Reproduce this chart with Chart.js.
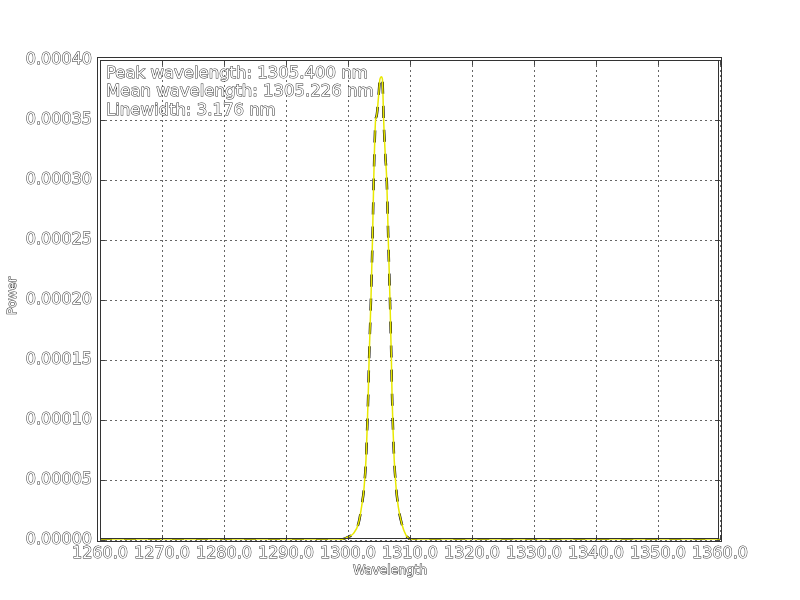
<!DOCTYPE html>
<html>
<head>
<meta charset="utf-8">
<script src="https://cdn.jsdelivr.net/npm/chart.js@4.4.1/dist/chart.umd.min.js"></script>
<style>
  html, body { margin: 0; padding: 0; background: #fff; }
  #grafica { display: block; }
</style>
</head>
<body>
<canvas id="grafica" width="800" height="600"></canvas>
<script>
var longitudes = [1260, 1298, 1299, 1300, 1300.9, 1301.7, 1302.2, 1302.6, 1302.9, 1303.1, 1303.27, 1303.4,
    1303.7, 1303.95, 1304.15, 1304.45, 1304.6, 1304.9, 1305.15, 1305.4, 1305.55, 1305.75, 1306.0,
    1306.25, 1306.5, 1306.77, 1307.0, 1307.1, 1307.25, 1307.45, 1307.75, 1308.1, 1308.65, 1309.35,
    1309.9, 1310.5, 1360]
var potencia = [0, 0, 0.0000005, 0.0000025, 0.0000055, 0.000014, 0.000028, 0.000044, 0.000067, 0.000094, 0.000122, 0.00015,
    0.0002, 0.00025, 0.0003, 0.00035, 0.000353, 0.000368, 0.000384, 0.000386, 0.000384, 0.00035, 0.000322,
    0.0003, 0.00025, 0.0002, 0.00015, 0.000122, 0.000094, 0.000067, 0.000044, 0.000028, 0.000014, 0.000004,
    0.000001, 0, 0]
var textos = ["Peak wavelength: 1305.400 nm", "Mean wavelength: 1305.226 nm", "Linewidth: 3.176 nm"]
var titulo_x = "Wavelength"
var titulo_y = "Power"

var fuente = "DejaVu Sans"
var puntos = longitudes.map(function (l, i) { return { x: l, y: potencia[i] } })

function texto_hueco(ctx, txt, x, y) {
    ctx.lineWidth = 1
    ctx.strokeStyle = "#333"
    ctx.fillStyle = "#fff"
    ctx.strokeText(txt, x, y)
    ctx.fillText(txt, x, y)
}

var marco = {
    id: "marco",
    afterDraw: function (chart) {
        var ctx = chart.ctx, a = chart.chartArea
        ctx.save()
        // marcas de escala hacia dentro
        ctx.strokeStyle = "#444"
        ctx.lineWidth = 1
        ctx.beginPath()
        chart.scales.x.ticks.forEach(function (t) {
            var px = Math.round(chart.scales.x.getPixelForValue(t.value)) + 0.5
            ctx.moveTo(px, a.bottom); ctx.lineTo(px, a.bottom - 5)
            ctx.moveTo(px, a.top); ctx.lineTo(px, a.top + 5)
        })
        chart.scales.y.ticks.forEach(function (t) {
            var py = Math.round(chart.scales.y.getPixelForValue(t.value)) + 0.5
            ctx.moveTo(a.left, py); ctx.lineTo(a.left + 5, py)
            ctx.moveTo(a.right, py); ctx.lineTo(a.right - 5, py)
        })
        ctx.stroke()
        // doble borde
        ctx.strokeStyle = "#333"
        ctx.strokeRect(a.left - 2.5, a.top - 2.5, a.right - a.left + 4, a.bottom - a.top + 4)
        ctx.strokeRect(a.left + 0.5, a.top + 0.5, a.right - a.left - 2, a.bottom - a.top - 2)
        // textos
        ctx.font = "16.5px '" + fuente + "'"
        ctx.textAlign = "left"
        ctx.textBaseline = "middle"
        var ys = [74, 92, 111]
        textos.forEach(function (t, i) { texto_hueco(ctx, t, a.left + 6, ys[i]) })
        ctx.font = "12.5px '" + fuente + "'"
        ctx.textAlign = "center"
        texto_hueco(ctx, titulo_x, 390, 571)
        ctx.translate(13, 296)
        ctx.rotate(-Math.PI / 2)
        texto_hueco(ctx, titulo_y, 0, 0)
        ctx.restore()
    }
}

var carga = {
    type: "line",
    data: {
        datasets: [{
            label: "espectro",
            data: puntos,
            borderColor: "#e8e800",
            borderWidth: 1.5,
            pointRadius: 0,
            fill: false,
            cubicInterpolationMode: "monotone"
        }, {
            label: "ajuste",
            data: puntos,
            borderColor: "#000",
            borderWidth: 2.5,
            borderDash: [12, 12],
            pointRadius: 0,
            fill: false,
            cubicInterpolationMode: "monotone"
        }]
    },
    options: {
        responsive: false,
        animation: false,
        layout: { padding: { top: 60, right: 80, left: 0, bottom: 0 } },
        plugins: { legend: { display: false }, tooltip: { enabled: false } },
        scales: {
            x: {
                type: "linear", min: 1260, max: 1360,
                afterFit: function (s) { s.height = 60 },
                border: { display: false, dash: [2, 3] },
                grid: { color: "#666", drawTicks: false },
                ticks: {
                    stepSize: 10, padding: 4, maxRotation: 0, autoSkip: false,
                    font: { family: fuente, size: 16 },
                    color: "#fff", textStrokeColor: "#333", textStrokeWidth: 1,
                    callback: function (v) { return v.toFixed(1) }
                }
            },
            y: {
                min: 0, max: 0.0004,
                afterFit: function (s) { s.width = 100 },
                border: { display: false, dash: [2, 3] },
                grid: { color: "#666", drawTicks: false },
                ticks: {
                    stepSize: 0.00005, padding: 8,
                    font: { family: fuente, size: 16 },
                    color: "#fff", textStrokeColor: "#333", textStrokeWidth: 1,
                    callback: function (v) { return v.toFixed(5) }
                }
            }
        }
    },
    plugins: [marco]
}

new Chart(document.getElementById("grafica"), carga)
</script>
</body>
</html>
